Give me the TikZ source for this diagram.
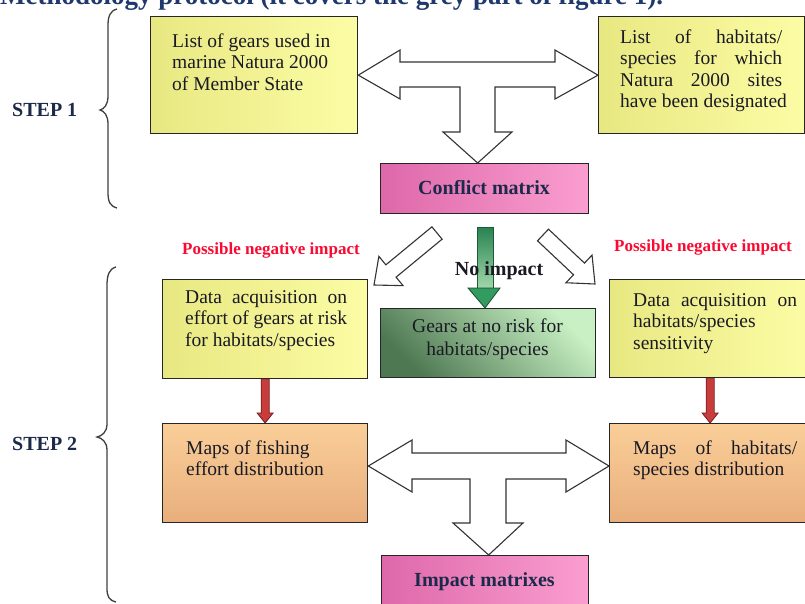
\documentclass[tikz,border=0pt]{standalone}
\usepackage{fontspec}
\setmainfont{Liberation Serif}
\usetikzlibrary{calc}
\definecolor{ylL}{RGB}{232,232,130}
\definecolor{ylR}{RGB}{252,252,165}
\definecolor{orT}{RGB}{250,206,152}
\definecolor{orB}{RGB}{232,174,124}
\definecolor{pkL}{RGB}{222,104,170}
\definecolor{pkR}{RGB}{250,158,208}
\definecolor{gnD}{RGB}{78,120,82}
\definecolor{gnL}{RGB}{200,240,196}
\definecolor{txt}{RGB}{26,26,36}
\definecolor{navy}{RGB}{27,42,74}
\definecolor{capblue}{RGB}{31,56,110}
\definecolor{rimp}{RGB}{250,10,50}
\definecolor{redA}{RGB}{200,60,60}
\definecolor{redO}{RGB}{120,30,30}
\definecolor{grT}{RGB}{40,130,80}
\definecolor{grB}{RGB}{160,215,170}
\definecolor{grH}{RGB}{50,155,95}
\tikzset{
  boxbase/.style={draw=black!85, line width=1.3pt, anchor=north west, inner sep=0pt},
  ybox/.style={boxbase, left color=ylL, right color=ylR},
  obox/.style={boxbase, top color=orT, bottom color=orB},
  pbox/.style={boxbase, left color=pkL, right color=pkR},
  gbox/.style={boxbase, top color=gnL, bottom color=gnD, shading angle=-45},
  btext/.style={anchor=north west, inner sep=0pt, text=txt, align=left, font=\fontsize{19.5}{21.5}\selectfont},
  blabel/.style={anchor=base, inner sep=0pt, text=navy, font=\fontsize{20}{22}\selectfont\bfseries},
  rlabel/.style={anchor=base, inner sep=0pt, text=rimp, font=\fontsize{17}{19}\selectfont\bfseries},
  hollow/.style={draw=black!80, line width=1.1pt, fill=white, line join=miter},
  redarr/.style={draw=redO, line width=0.8pt, fill=redA},
  bracestyle/.style={draw=black!75, line width=1.3pt},
}
\newcommand{\diagarrow}[2]{%
  \draw[hollow]
    ($(#1)!8pt!90:(#2)$) -- ($($(#2)!22pt!(#1)$)!8pt!-90:(#1)$)
    -- ($($(#2)!22pt!(#1)$)!19pt!-90:(#1)$) -- (#2)
    -- ($($(#2)!22pt!(#1)$)!19pt!90:(#1)$)
    -- ($($(#2)!22pt!(#1)$)!8pt!90:(#1)$) -- ($(#1)!8pt!-90:(#2)$) -- cycle;}
\begin{document}
\begin{tikzpicture}[x=1pt,y=-1pt]
\useasboundingbox (0,0) rectangle (805,604);
\begin{scope}
\clip (0,0) rectangle (805,604);
\fill[white] (0,0) rectangle (805,604);

% caption cut by the top edge
\node[anchor=base west, inner sep=0pt, text=capblue, font=\fontsize{27}{29}\selectfont\bfseries] (cap) at (0,5) {Methodology protocol (it covers the grey part of figure 1).};

% boxes
\node[ybox, minimum width=207pt, minimum height=117pt] (A) at (150,16) {};
\node[ybox, minimum width=206pt, minimum height=117pt] (B) at (598,16) {};
\node[pbox, minimum width=208pt, minimum height=50pt] (conf) at (380,163) {};
\node[ybox, minimum width=205pt, minimum height=99pt] (C) at (162,279) {};
\node[gbox, minimum width=215pt, minimum height=69pt] (D) at (380,308) {};
\node[ybox, minimum width=201pt, minimum height=98pt] (E) at (609,279) {};
\node[obox, minimum width=205pt, minimum height=99pt] (F) at (162,423) {};
\node[obox, minimum width=201pt, minimum height=99pt] (G) at (609,423) {};
\node[pbox, minimum width=207pt, minimum height=50pt] (imp) at (381,555) {};

% box texts
\node[btext] (tA) at (172,32) {\strut List of gears used in\\marine Natura 2000\\of Member State};
\node[btext] (tB) at (620,28) {\strut\makebox[162pt][s]{List of habitats/}\\\makebox[162pt][s]{species for which}\\\makebox[162pt][s]{Natura 2000 sites}\\have been designated};
\node[btext] (tC) at (185,288) {\strut\makebox[162pt][s]{Data acquisition on}\\\makebox[162pt][s]{effort of gears at risk}\\for habitats/species};
\node[btext, align=center, anchor=north, font=\fontsize{19.5}{23}\selectfont] (tD) at (487.5,316) {\strut Gears at no risk for\\habitats/species};
\node[btext] (tE) at (633,291) {\strut\makebox[164pt][s]{Data acquisition on}\\habitats/species\\sensitivity};
\node[btext] (tF) at (186,439) {\strut Maps of fishing\\effort distribution};
\node[btext] (tG) at (633,439) {\strut\makebox[164pt][s]{Maps of habitats/}\\species distribution};
\node[blabel] (tconf) at (484,194) {Conflict matrix};
\node[blabel] (timp) at (484.5,586) {Impact matrixes};

% top T arrow
\draw[hollow] (A.east) -- (400,50) -- (400,62) -- (555,62) -- (555,50) -- (B.west)
  -- (555,99) -- (555,87) -- (495,87) -- (495,132) -- (512,132)
  -- ($(conf.north)+(-7,0)$) -- (443,132) -- (460,132) -- (460,87) -- (400,87)
  -- (400,99) -- cycle;

% diagonal hollow arrows
\coordinate (dlT) at (437,233);
\coordinate (dlH) at (374,285);
\coordinate (drT) at (543,235);
\coordinate (drH) at (595,284);
\diagarrow{dlT}{dlH}
\diagarrow{drT}{drH}

% green arrow
\shade[top color=grT, bottom color=grB, draw=grT!70!black, line width=0.6pt] (477,227) rectangle (493,288);
\draw[fill=grH, draw=grT!60!black, line width=0.8pt] (468,288) -- (500,288) -- (D.north -| 485,0) -- cycle;

% red arrows
\draw[redarr] ($(C.south)+(-4,0)$) -- ($(F.north)+(-4,-10)$) -- ($(F.north)+(-8,-10)$) -- (F.north)
  -- ($(F.north)+(8,-10)$) -- ($(F.north)+(4,-10)$) -- ($(C.south)+(4,0)$) -- cycle;
\draw[redarr] ($(E.south)+(-4,0)$) -- ($(G.north)+(-4,-10)$) -- ($(G.north)+(-8,-10)$) -- (G.north)
  -- ($(G.north)+(8,-10)$) -- ($(G.north)+(4,-10)$) -- ($(E.south)+(4,0)$) -- cycle;

% bottom T arrow
\coordinate (bm) at (0,466);
\draw[hollow] (F.east |- bm) -- (412,440) -- (412,453) -- (566,453) -- (566,440) -- (G.west |- bm)
  -- (566,492) -- (566,479) -- (506,479) -- (506,523) -- (523,523)
  -- ($(imp.north)+(3.5,0)$) -- (453,523) -- (470,523) -- (470,479) -- (412,479)
  -- (412,492) -- cycle;

% labels
\node[rlabel] (pl) at (271,254) {Possible negative impact};
\node[rlabel] (pr) at (703,251) {Possible negative impact};
\node[blabel, text=txt] (noimp) at (499,275) {No impact};
\node[blabel, anchor=base west] (s1) at (12,117) {STEP 1};
\node[blabel, anchor=base west] (s2) at (12,450) {STEP 2};

% braces
\draw[bracestyle] (117,9) .. controls (110,11) and (108,16) .. (108,26) -- (108,96)
  .. controls (108,105) and (104,109) .. (100,110) .. controls (104,111) and (108,115) .. (108,124)
  -- (108,192) .. controls (108,202) and (110,206) .. (117,208);
\draw[bracestyle] (116,267) .. controls (109,269) and (107,275) .. (107,286) -- (107,424)
  .. controls (107,432) and (102,436) .. (97,437) .. controls (102,438) and (107,442) .. (107,450)
  -- (107,588) .. controls (107,597) and (109,600) .. (116,602);
\end{scope}
\end{tikzpicture}
\end{document}
